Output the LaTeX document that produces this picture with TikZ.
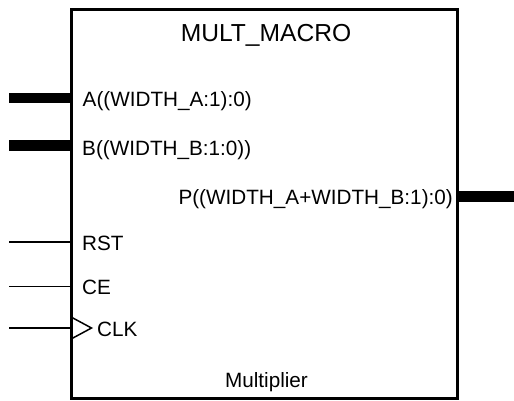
\documentclass[tikz,border=0pt]{standalone}
\usepackage{fontspec}
\setmainfont{Liberation Sans}
\begin{document}
\begin{tikzpicture}[x=1pt,y=-1pt,
  blockbox/.style={draw,line width=3pt,minimum width=386pt,minimum height=389.5pt,inner sep=0pt,outer sep=0pt,anchor=north west},
  bus/.style={line width=10.5pt},
  wire/.style={line width=1.5pt},
  portlbl/.style={inner sep=0pt,anchor=base west,font=\fontsize{20.7}{24}\selectfont},
  portlblr/.style={inner sep=0pt,anchor=base east,font=\fontsize{20.7}{24}\selectfont},
  titlelbl/.style={inner sep=0pt,anchor=base,font=\fontsize{24.6}{28}\selectfont}]
\useasboundingbox (0,0) rectangle (514,400);
\node[blockbox] (blk) at (71,9) {};
\node[titlelbl] (title) at (266,41.7) {MULT\_MACRO};
\node[titlelbl,font=\fontsize{20.7}{24}\selectfont] (desc) at (266.5,387.3) {Multiplier};
% ports
\coordinate (Ain) at (9,98);
\coordinate (Bin) at (9,145.5);
\coordinate (Pout) at (514,196.7);
\coordinate (RSTin) at (9,242);
\coordinate (CEin) at (9,286.5);
\coordinate (CLKin) at (9,328);
\draw[bus] (Ain) -- (Ain -| blk.west);
\draw[bus] (Bin) -- (Bin -| blk.west);
\draw[bus] (Pout -| blk.east) -- (Pout);
\draw[wire] (RSTin) -- (RSTin -| blk.west);
\draw[wire] (CEin) -- (CEin -| blk.west);
\draw[wire] (CLKin) -- (CLKin -| blk.west);
\draw[wire,line join=miter] (72,317.5) -- (91.5,328) -- (72,338.5);
\node[portlbl] (lA) at (82.5,106.7) {A((WIDTH\_A:1):0)};
\node[portlbl] (lB) at (82,155) {B((WIDTH\_B:1:0))};
\node[portlblr] (lP) at (453,204.2) {P((WIDTH\_A+WIDTH\_B:1):0)};
\node[portlbl] (lRST) at (82,250) {RST};
\node[portlbl] (lCE) at (82,294.3) {CE};
\node[portlbl] (lCLK) at (97,336.7) {CLK};
\end{tikzpicture}
\end{document}
